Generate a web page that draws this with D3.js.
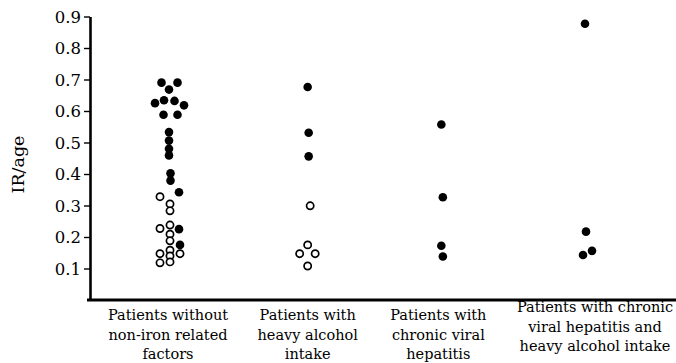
<!DOCTYPE html>
<html><head><meta charset="utf-8">
<script src="https://cdn.jsdelivr.net/npm/d3@7"></script>
<style>body{margin:0;background:#fff}svg{display:block}text{font-family:"DejaVu Serif",serif;fill:#000}</style>
</head><body>
<script>
// ---- data ----
const categories = [
  ["Patients without", "non-iron related", "factors"],
  ["Patients with", "heavy alcohol", "intake"],
  ["Patients with", "chronic viral", "hepatitis"],
  ["Patients with chronic", "viral hepatitis and", "heavy alcohol intake"]
];
const yTicks = [0.1,0.2,0.3,0.4,0.5,0.6,0.7,0.8,0.9];
// group index, IR/age value, filled (1) / open (0), horizontal jitter slot (in point widths)
const group  = [0,0,0,0,0,0,0,0,0,0,0,0,0,0,0,0,0,0, 0,0,0,0,0,0,0,0,0,0,0,0,0,
                1,1,1,1,1,1,1,1, 2,2,2,2, 3,3,3,3];
const value  = [0.690,0.690,0.668,0.625,0.634,0.632,0.618,0.588,0.588,0.533,0.506,0.480,0.459,0.402,0.379,0.342,0.225,0.175,
                0.328,0.305,0.283,0.227,0.238,0.209,0.188,0.147,0.158,0.140,0.121,0.147,0.118,
                0.676,0.531,0.456,0.299,0.175,0.147,0.147,0.108,
                0.557,0.326,0.172,0.138,
                0.877,0.217,0.143,0.156];
const filled = [1,1,1,1,1,1,1,1,1,1,1,1,1,1,1,1,1,1,
                0,0,0,0,0,0,0,0,0,0,0,0,0,
                1,1,1,0,0,0,0,0,
                1,1,1,1,
                1,1,1,1];
const jitter = [-0.75,0.85,0,-1.4,-0.5,0.55,1.5,-0.55,0.85,0,0,0,0,0.15,0.15,1,1,1.1,
                -0.9,0.1,0.1,-0.9,0.1,0.1,0.1,1.1,0.1,0.1,0.1,-0.9,-0.9,
                0,0.1,0.1,0.25,0,-0.8,0.75,0,
                -0.5,-0.35,-0.5,-0.35,
                0,0.1,-0.2,0.7];

const W = 676, H = 363;
const svg = d3.select("body").append("svg").attr("width", W).attr("height", H);

const y = d3.scaleLinear().domain([0, 0.9]).range([300, 16.5]);
const x = d3.scalePoint().domain(d3.range(categories.length)).range([169, 585]);
const jx = d3.scaleLinear().domain([0, 1]).range([0, 10]);
const labelShift = [-1, 0, -8, 10];

// y axis
const yAxis = d3.axisLeft(y).tickValues(yTicks).tickSize(6).tickSizeOuter(0).tickFormat(d3.format(".1f"));
const gy = svg.append("g").attr("transform", "translate(90,0)").call(yAxis);
gy.select(".domain").attr("stroke", "#000").attr("stroke-width", 2.6);
gy.selectAll(".tick line").attr("stroke", "#000").attr("stroke-width", 1.4);
gy.selectAll(".tick text").attr("x", -9).attr("dy", "0.36em")
  .style("font-size", "16.5px").style("font-family", '"DejaVu Serif",serif');

// x axis line
svg.append("line").attr("x1", 87).attr("x2", W).attr("y1", y(0)).attr("y2", y(0))
  .attr("stroke", "#000").attr("stroke-width", 2.8);

// y label
svg.append("text").attr("transform", `translate(24,${y(0.43)}) rotate(-90)`)
  .attr("text-anchor", "middle").style("font-size", "17.5px").text("IR/age");

// category labels
const lab = svg.append("g").selectAll("text").data(categories).join("text")
  .attr("text-anchor", "middle").style("font-size", "14.5px")
  .attr("transform", (d, i) => `translate(${x(i) + labelShift[i]},${i === 3 ? 312 : 320})`);
lab.selectAll("tspan").data(d => d).join("tspan")
  .attr("x", 0).attr("dy", (d, j) => j === 0 ? 0 : 19.5).text(d => d);

// points
const pts = d3.range(value.length).map(i => ({g: group[i], v: value[i], f: filled[i], j: jitter[i]}));
svg.append("g").selectAll("circle").data(pts).join("circle")
  .attr("cx", d => x(d.g) + jx(d.j))
  .attr("cy", d => y(d.v))
  .attr("r", d => d.f ? 4.3 : 3.6)
  .attr("fill", d => d.f ? "#000" : "#fff")
  .attr("stroke", "#000")
  .attr("stroke-width", d => d.f ? 0 : 1.7);
</script>
</body></html>
